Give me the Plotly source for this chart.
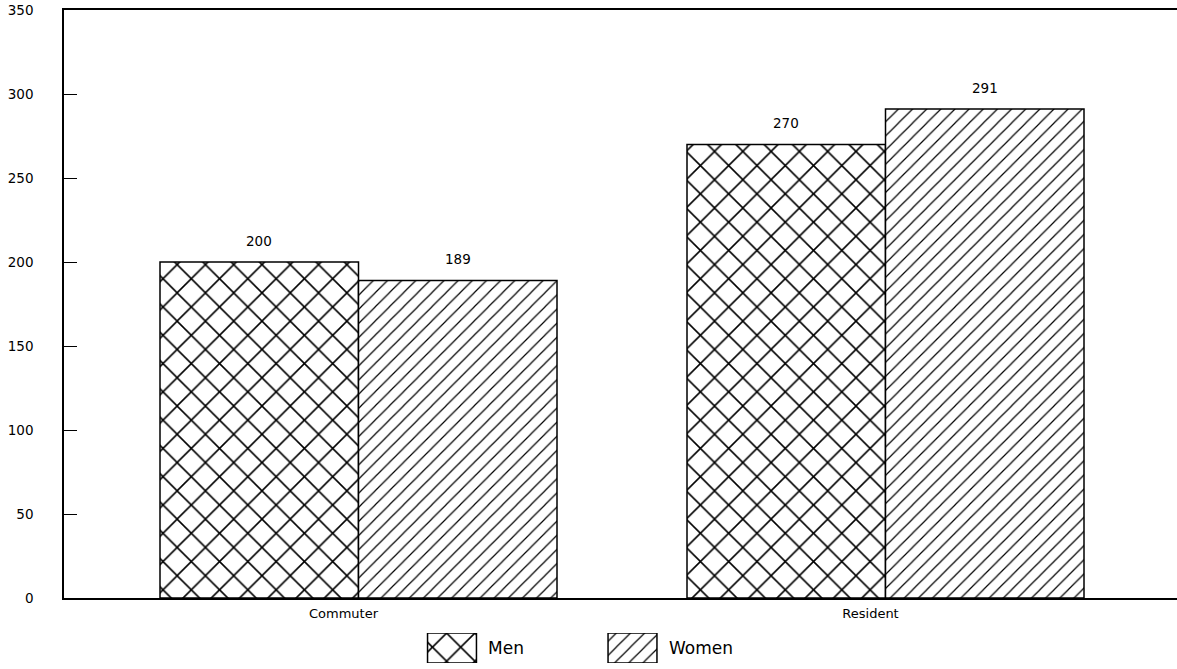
import plotly.graph_objects as go

categories = ["Commuter", "Resident"]
series_names = ["Men", "Women"]
men_values = [200, 270]
women_values = [189, 291]
y_ticks = [0, 50, 100, 150, 200, 250, 300, 350]

W, H = 1177, 669
FONT = "DejaVu Sans"

patterns = {"Men": dict(shape="x", size=20, solidity=0.15),
            "Women": dict(shape="/", size=10, solidity=0.12)}

fig = go.Figure()
xpos = list(range(len(categories)))
for name, vals in zip(series_names, [men_values, women_values]):
    p = patterns[name]
    fig.add_trace(go.Bar(
        x=xpos, y=vals, name=name, showlegend=False,
        marker=dict(color="white", line=dict(color="black", width=1.5),
                    pattern=dict(shape=p["shape"], size=p["size"], solidity=p["solidity"],
                                 fgcolor="black", bgcolor="white", fillmode="replace")),
        xaxis="x", yaxis="y", hoverinfo="skip",
    ))

# value labels
ann = []
offsets = [-0.1885, 0.1885]
for off, vals in zip(offsets, [men_values, women_values]):
    for xi, v in zip(xpos, vals):
        ann.append(dict(x=xi + off, y=v, xref="x", yref="y", text=str(v), showarrow=False,
                        yshift=21, font=dict(family=FONT, size=13.5, color="black")))

# custom legend (inset axis)
fig.add_trace(go.Bar(
    x=[0, 1], y=[1, 1], width=0.271, showlegend=False, hoverinfo="skip",
    marker=dict(color="white", line=dict(color="black", width=1.5),
                pattern=dict(shape=[patterns[n]["shape"] for n in series_names],
                             size=[patterns[n]["size"] for n in series_names],
                             solidity=[patterns[n]["solidity"] for n in series_names],
                             fgcolor="black", bgcolor="white", fillmode="replace")),
    xaxis="x2", yaxis="y2",
))

L, R, T, B = 64, 0, 10, 0
pw = W - L - R
ph = H - T - B
def px_x(px):
    return (px - L) / pw
def px_y(py):
    return (H - B - py) / ph

# main x range: centers at 358.5 and 885.5
c0, step = 358.5, 527.0
xr = [(L - c0) / step, (W - R - c0) / step]

leg_left = 452 - 90.25
for i, n in enumerate(series_names):
    ann.append(dict(x=px_x(486 + i * 181), y=px_y(648), xref="paper", yref="paper", text=n,
                    showarrow=False, xanchor="left", yanchor="middle",
                    font=dict(family=FONT, size=17, color="black")))

fig.update_layout(
    template="none",
    width=W, height=H, autosize=False,
    margin=dict(l=L, r=R, t=T, b=B, pad=0, autoexpand=False),
    paper_bgcolor="white", plot_bgcolor="white",
    barmode="group", bargap=1 - 397 / 527, bargroupgap=0,
    font=dict(family=FONT, size=13, color="black"),
    annotations=ann,
    showlegend=False,
    xaxis=dict(domain=[0, 1], range=xr, tickvals=xpos, ticktext=categories,
               showgrid=False, zeroline=False, showline=True, linecolor="black",
               linewidth=1.5, mirror=True, ticks="", tickfont=dict(family=FONT, size=13),
               ticklabelstandoff=3, ticklabelshift=-15, anchor="y", automargin=False),
    yaxis=dict(domain=[px_y(598), 1], range=[0, 350], tickvals=y_ticks,
               showgrid=False, zeroline=False, showline=True, linecolor="black",
               linewidth=1.5, ticks="inside", ticklen=13, tickcolor="black",
               tickwidth=1, ticklabelstandoff=26, tickfont=dict(family=FONT, size=13.5),
               anchor="x", automargin=False),
    xaxis2=dict(domain=[px_x(leg_left), px_x(leg_left + 361)], range=[-0.5, 1.5],
                visible=False, anchor="y2", automargin=False),
    yaxis2=dict(domain=[px_y(663), px_y(633)], range=[0, 1], visible=False, anchor="x2",
                automargin=False),
)

fig.write_html("out.html", config={"displayModeBar": False, "responsive": False},
               post_script="document.body.style.margin='0';")
